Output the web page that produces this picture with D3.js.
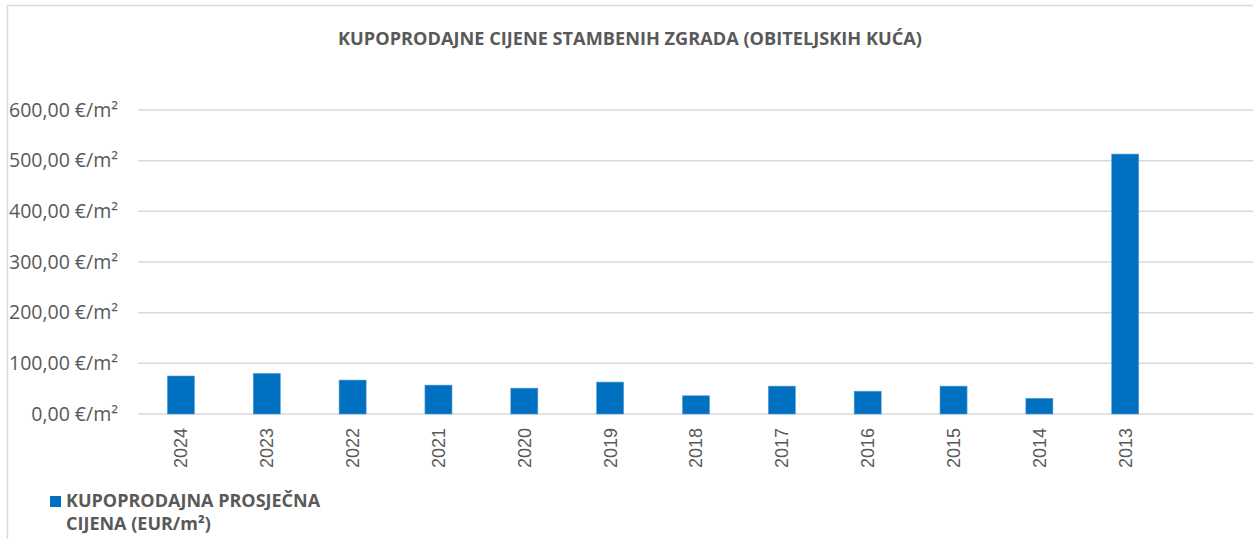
<!DOCTYPE html>
<html>
<head>
<meta charset="utf-8">
<script src="https://cdn.jsdelivr.net/npm/d3@7"></script>
<style>
  body { margin: 0; background: #fff; }
  svg text { font-family: "Open Sans", Lato, sans-serif; fill: #595959; }
</style>
</head>
<body>
<div id="chart"></div>
<script>
const years = ["2024", "2023", "2022", "2021", "2020", "2019", "2018", "2017", "2016", "2015", "2014", "2013"];
const prices = [75, 80, 67, 57, 51, 63, 36, 55, 45, 55, 31, 513];
const yTicks = [0, 100, 200, 300, 400, 500, 600];
const chartTitle = "KUPOPRODAJNE CIJENE STAMBENIH ZGRADA (OBITELJSKIH KUĆA)";
const legendLines = ["KUPOPRODAJNA PROSJEČNA", "CIJENA (EUR/m²)"];

const width = 1253, height = 539;
const plotLeft = 138, plotRight = 1254, plotTop = 110, plotBottom = 414;
const step = (plotRight - plotLeft) / (years.length + 1);

const svg = d3.select("#chart").append("svg")
  .attr("width", width)
  .attr("height", height);

// chart frame (cropped on right / bottom)
svg.append("rect")
  .attr("x", 7.5).attr("y", 5.5)
  .attr("width", width + 20).attr("height", height + 20)
  .attr("fill", "none").attr("stroke", "#d9d9d9").attr("stroke-width", 1.5);

const x = d3.scaleBand()
  .domain(years)
  .range([plotLeft, plotLeft + step * years.length])
  .paddingInner(0.685).paddingOuter(0.3425);

const y = d3.scaleLinear().domain([0, 600]).range([plotBottom, plotTop]);

const fmt = v => d3.format(",.2f")(v).replace(/,/g, " ").replace(".", ",") + " €/m²";

// gridlines
svg.append("g")
  .selectAll("line")
  .data(yTicks)
  .join("line")
  .attr("x1", plotLeft).attr("x2", plotRight)
  .attr("y1", d => y(d)).attr("y2", d => y(d))
  .attr("stroke", "#d9d9d9").attr("stroke-width", 1.5);

// y labels
svg.append("g")
  .selectAll("text")
  .data(yTicks)
  .join("text")
  .attr("x", 118)
  .attr("y", d => y(d))
  .attr("dy", "0.35em")
  .attr("text-anchor", "end")
  .attr("font-size", "19.5px")
  .text(fmt);

// bars
svg.append("g")
  .selectAll("rect")
  .data(years)
  .join("rect")
  .attr("x", d => x(d))
  .attr("y", (d, i) => y(prices[i]))
  .attr("width", x.bandwidth())
  .attr("height", (d, i) => y(0) - y(prices[i]))
  .attr("fill", "#0070C0")
  .attr("stroke", "#5b9bd5").attr("stroke-width", 0.6);

// x labels
svg.append("g")
  .selectAll("text")
  .data(years)
  .join("text")
  .attr("transform", d => `translate(${x(d) + x.bandwidth() / 2},428) rotate(-90)`)
  .attr("text-anchor", "end")
  .attr("dy", "0.36em")
  .attr("font-size", "18px")
  .style("font-family", "'Liberation Sans', Arial, sans-serif")
  .text(d => d);

// title
svg.append("text")
  .attr("x", 630).attr("y", 45)
  .attr("text-anchor", "middle")
  .attr("font-size", "17px")
  .attr("font-weight", "bold")
  .attr("textLength", 584)
  .attr("lengthAdjust", "spacingAndGlyphs")
  .text(chartTitle);

// legend
svg.append("rect")
  .attr("x", 50).attr("y", 496)
  .attr("width", 11).attr("height", 11)
  .attr("fill", "#0070C0");

svg.append("g")
  .selectAll("text")
  .data(legendLines)
  .join("text")
  .attr("x", 66)
  .attr("y", (d, i) => 507 + i * 23)
  .attr("font-size", "18px")
  .attr("font-weight", "bold")
  .text(d => d);
</script>
</body>
</html>
